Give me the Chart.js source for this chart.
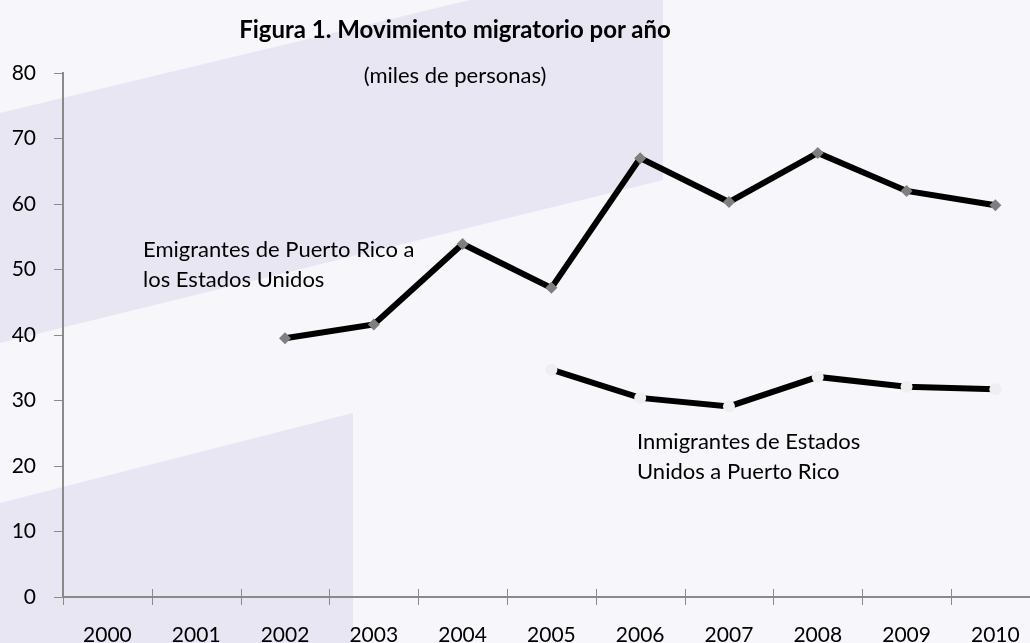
<!DOCTYPE html>
<html>
<head>
<meta charset="utf-8">
<script src="https://cdn.jsdelivr.net/npm/chart.js@4"></script>
<style>
  body { margin: 0; background: #f6f6fb; font-family: Lato, sans-serif; }
  #wrap { position: relative; width: 1030px; height: 643px; overflow: hidden; }
  canvas { position: absolute; left: 0; top: 0; }
  .txt { position: absolute; color: #000; white-space: nowrap; }
  #title { left: 0; width: 910px; top: 14px; text-align: center; font-weight: bold; font-size: 24px; }
  #subtitle { left: 0; width: 910px; top: 61px; text-align: center; font-size: 22px; }
  .note { font-size: 22px; line-height: 30px; }
</style>
</head>
<body>
<div id="wrap">
  <canvas id="myChart" width="1030" height="643"></canvas>
  <div class="txt" id="title">Figura 1. Movimiento migratorio por año</div>
  <div class="txt" id="subtitle">(miles de personas)</div>
  <div class="txt note" style="left:143px; top:234px;">Emigrantes de Puerto Rico a<br>los Estados Unidos</div>
  <div class="txt note" style="left:637px; top:426px;">Inmigrantes de Estados<br>Unidos a Puerto Rico</div>
</div>
<script>
// years on the x axis
const years = [2000, 2001, 2002, 2003, 2004, 2005, 2006, 2007, 2008, 2009, 2010]
// thousands of people
const emigrantes = [null, null, 39.5, 41.6, 53.9, 47.2, 67.0, 60.3, 67.8, 62.0, 59.8]
const inmigrantes = [null, null, null, null, null, 34.7, 30.4, 29.1, 33.6, 32.1, 31.7]
const yTicks = [0, 10, 20, 30, 40, 50, 60, 70, 80]

const axisGrey = '#8a8a8a'

// light lavender decoration behind the plot
const backdrop = {
  id: 'backdrop',
  beforeDraw(chart) {
    const c = chart.ctx
    c.save()
    c.fillStyle = '#f6f6fb'
    c.fillRect(0, 0, chart.width, chart.height)
    c.fillStyle = '#e8e6f3'
    c.beginPath()
    c.moveTo(0, 113); c.lineTo(470, 0); c.lineTo(663, 0); c.lineTo(663, 180); c.lineTo(0, 343)
    c.closePath(); c.fill()
    c.beginPath()
    c.moveTo(0, 503); c.lineTo(353, 413); c.lineTo(353, 643); c.lineTo(0, 643)
    c.closePath(); c.fill()
    c.restore()
  }
}

// tick marks between the years, crossing the axis
const crossTicks = {
  id: 'crossTicks',
  afterDatasetsDraw(chart) {
    const c = chart.ctx
    const x = chart.scales.x
    const yb = chart.chartArea.bottom
    c.save()
    c.strokeStyle = axisGrey
    c.lineWidth = 1
    for (let i = 0; i < years.length; i++) {
      const px = Math.round(x.getPixelForValue(years[i] - 0.5)) + 0.5
      c.beginPath()
      c.moveTo(px, yb - 8)
      c.lineTo(px, yb + 8)
      c.stroke()
    }
    c.restore()
  }
}

var ctx = document.getElementById('myChart').getContext('2d')

var myChart = new Chart(ctx, {
  type: 'line',
  data: {
    datasets: [{
      data: years.map((yr, i) => ({ x: yr, y: emigrantes[i] })),
      borderColor: '#000',
      borderWidth: 6,
      tension: 0,
      pointStyle: 'rectRot',
      pointRadius: 6,
      pointBackgroundColor: '#7f7f7f',
      pointBorderWidth: 0,
      fill: false,
    }, {
      data: years.map((yr, i) => ({ x: yr, y: inmigrantes[i] })),
      borderColor: '#000',
      borderWidth: 6,
      tension: 0,
      pointStyle: 'circle',
      pointRadius: 6,
      pointBackgroundColor: '#efeff2',
      pointBorderWidth: 0,
      fill: false,
    }]
  },
  options: {
    responsive: false,
    animation: false,
    layout: { autoPadding: false, padding: { top: 73, right: 0, left: 0, bottom: 0 } },
    plugins: {
      legend: { display: false },
      tooltip: { enabled: false }
    },
    scales: {
      x: {
        type: 'linear',
        min: 1999.5,
        max: 2010.39,
        afterBuildTicks: s => { s.ticks = years.map(v => ({ value: v })) },
        afterFit: s => { s.height = 46; s.paddingLeft = 0; s.paddingRight = 0 },
        grid: { display: false },
        border: { display: true, color: axisGrey, width: 2 },
        ticks: {
          color: '#000',
          font: { family: 'Lato', size: 21 },
          padding: 18,
          maxRotation: 0,
          autoSkip: false,
          callback: v => String(v)
        }
      },
      y: {
        min: 0,
        max: 80,
        afterBuildTicks: s => { s.ticks = yTicks.map(v => ({ value: v })) },
        afterFit: s => { s.width = 63 },
        grid: { drawOnChartArea: false, drawTicks: true, tickLength: 9, color: axisGrey },
        border: { display: true, color: axisGrey, width: 2 },
        ticks: {
          color: '#000',
          font: { family: 'Lato', size: 21 },
          padding: 18
        }
      }
    }
  },
  plugins: [backdrop, crossTicks]
})
</script>
</body>
</html>
